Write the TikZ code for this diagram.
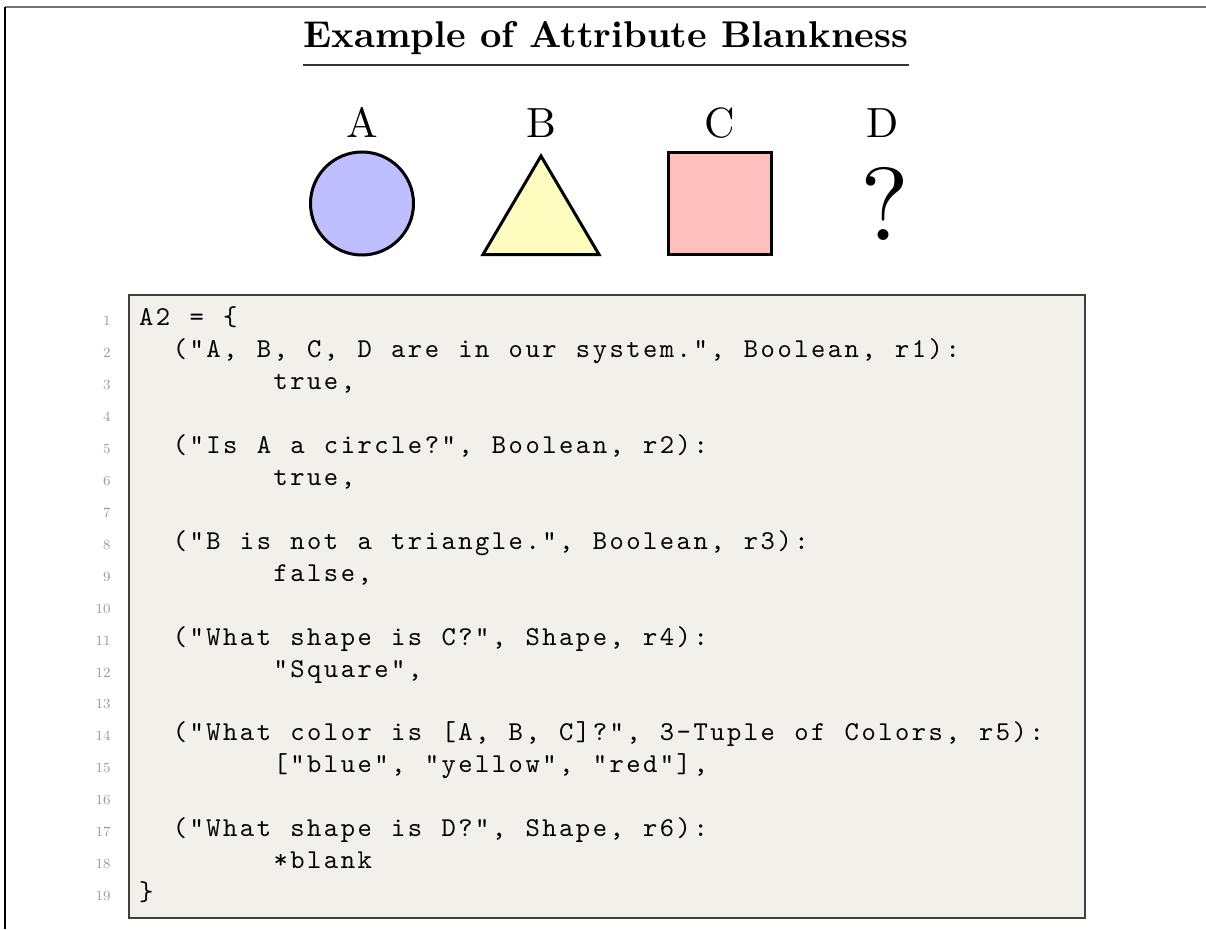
\documentclass[tikz,border=0pt]{standalone}
\usetikzlibrary{calc}
\definecolor{codebg}{HTML}{F1F0EA}
\definecolor{numgray}{HTML}{9A9A9A}
\newlength\codecell
\setlength\codecell{0.2168cm}
\newcommand\codesp{}
\newcommand\codescale{1.55}
% one listing line: every character in a cell of fixed width
\ExplSyntaxOn
\tl_new:N \l__cl_tl
\NewDocumentCommand \codeline { O{0} m }
  {
    \tl_set:Nn \l__cl_tl {#2}
    \tl_replace_all:Nnn \l__cl_tl { ~ } { \codesp }
    \scalebox{\codescale}{
      \prg_replicate:nn {#1} { \makebox[\codecell]{} }
      \tl_map_inline:Nn \l__cl_tl { \makebox[\codecell][c]{##1} }
    }
  }
\ExplSyntaxOff

\begin{document}
\begin{tikzpicture}[x=0.02cm,y=-0.02cm,
  shapeline/.style={draw=black,line width=0.06cm},
  lbl/.style={font=\fontsize{10}{12}\selectfont,anchor=base,inner sep=0},
  lineno/.style={font=\fontsize{8}{9}\selectfont,text=numgray,anchor=base east,inner sep=0},
  codetxt/.style={font=\fontsize{10}{12}\selectfont\ttfamily,anchor=base west,inner sep=0}]
 \useasboundingbox (0,0) rectangle (1206,929);
 % page frame
 \draw[black!55,line width=0.04cm] (5,7) -- (1206,7);
 \draw[black,line width=0.04cm] (5,7) -- (5,929);
 % title
 \node[font=\fontsize{10}{12}\selectfont\bfseries,anchor=base,inner sep=0] (title) at (606,48) {\scalebox{2.12}{Example of Attribute Blankness}};
 \draw[black!80,line width=0.055cm] ($(title.base west)+(0,17)$) -- ($(title.base east)+(0,17)$);
 % the four objects
 \node[lbl] (A) at (362,138) {\scalebox{2.4}{A}};
 \node[lbl] (B) at (541,138) {\scalebox{2.4}{B}};
 \node[lbl] (C) at (720,138) {\scalebox{2.4}{C}};
 \node[lbl] (D) at (883,138) {\scalebox{2.4}{D}};
 \draw[shapeline,fill=blue!25] (362,203.5) circle[radius=51.5];
 \draw[shapeline,fill=yellow!25] (541,156) -- (483,254.5) -- (599,254.5) -- cycle;
 \draw[shapeline,fill=red!25] (668.5,152.5) rectangle (771.5,254.5);
 \node[lbl,anchor=center] (q) at (885,203.5) {\scalebox{5.9}{?}};
 % listing
 \draw[fill=codebg,draw=black!75,line width=0.03cm] (129,295) rectangle (1085,918);
 \coordinate (codeleft) at (137.6,0);
 \foreach \n in {1,...,19}
   \node[lineno] (n\n) at (111,{325.7+31.94*(\n-1)}) {\n};
 \node[codetxt] (l1) at (n1.base -| codeleft) {\codeline{A2 = \{}};
 \node[codetxt] (l2) at (n2.base -| codeleft) {\codeline[2]{("A, B, C, D are in our system.", Boolean, r1):}};
 \node[codetxt] (l3) at (n3.base -| codeleft) {\codeline[8]{true,}};
 \node[codetxt] (l5) at (n5.base -| codeleft) {\codeline[2]{("Is A a circle?", Boolean, r2):}};
 \node[codetxt] (l6) at (n6.base -| codeleft) {\codeline[8]{true,}};
 \node[codetxt] (l8) at (n8.base -| codeleft) {\codeline[2]{("B is not a triangle.", Boolean, r3):}};
 \node[codetxt] (l9) at (n9.base -| codeleft) {\codeline[8]{false,}};
 \node[codetxt] (l11) at (n11.base -| codeleft) {\codeline[2]{("What shape is C?", Shape, r4):}};
 \node[codetxt] (l12) at (n12.base -| codeleft) {\codeline[8]{"Square",}};
 \node[codetxt] (l14) at (n14.base -| codeleft) {\codeline[2]{("What color is [A, B, C]?", 3-Tuple of Colors, r5):}};
 \node[codetxt] (l15) at (n15.base -| codeleft) {\codeline[8]{["blue", "yellow", "red"],}};
 \node[codetxt] (l17) at (n17.base -| codeleft) {\codeline[2]{("What shape is D?", Shape, r6):}};
 \node[codetxt] (l18) at (n18.base -| codeleft) {\codeline[8]{*blank}};
 \node[codetxt] (l19) at (n19.base -| codeleft) {\codeline{\}}};
\end{tikzpicture}
\end{document}
